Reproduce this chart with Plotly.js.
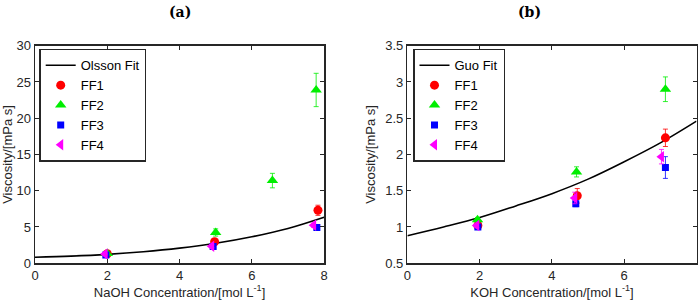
<!DOCTYPE html>
<html>
<head>
<meta charset="utf-8">
<script src="https://cdn.plot.ly/plotly-3.0.1.min.js"></script>
<style>html,body{margin:0;padding:0;background:#fff;}#chart{width:700px;height:305px;}</style>
</head>
<body>
<div id="chart"></div>
<script>
// Panel (a): NaOH
const fitA_x = [0, 1, 2, 3, 4, 5, 6, 7, 8];
const fitA_y = [0.82, 0.98, 1.22, 1.58, 2.08, 2.75, 3.65, 4.8, 6.35];
const a_FF1_x = [2.0, 4.97, 7.83];
const a_FF1_y = [1.3, 2.96, 7.3];
const a_FF1_e = [0.15, 0.3, 0.7];
const a_FF2_x = [2.0, 5.0, 6.57, 7.78];
const a_FF2_y = [1.35, 4.24, 11.4, 23.9];
const a_FF2_e = [0.15, 0.5, 1.0, 2.3];
const a_FF3_x = [1.96, 4.93, 7.8];
const a_FF3_y = [1.15, 2.3, 4.92];
const a_FF3_e = [0.1, 0.2, 0.3];
const a_FF4_x = [1.94, 4.89, 7.71];
const a_FF4_y = [1.27, 2.35, 5.25];
const a_FF4_e = [0.1, 0.2, 0.3];

// Panel (b): KOH
const fitB_x = [0, 1, 2, 3, 4, 5, 6, 7, 8];
const fitB_y = [0.88, 1.0, 1.13, 1.29, 1.46, 1.66, 1.9, 2.16, 2.46];
const b_FF1_x = [1.95, 4.7, 7.14];
const b_FF1_y = [1.02, 1.43, 2.23];
const b_FF1_e = [0.03, 0.1, 0.12];
const b_FF2_x = [1.94, 4.68, 7.14];
const b_FF2_y = [1.1, 1.76, 2.9];
const b_FF2_e = [0.03, 0.07, 0.17];
const b_FF3_x = [1.95, 4.66, 7.14];
const b_FF3_y = [1.0, 1.32, 1.82];
const b_FF3_e = [0.02, 0.04, 0.15];
const b_FF4_x = [1.92, 4.63, 7.03];
const b_FF4_y = [1.02, 1.4, 1.97];
const b_FF4_e = [0.03, 0.08, 0.1];

const names = ['FF1', 'FF2', 'FF3', 'FF4'];
const colors = ['#ff0000', '#00ee00', '#0000ff', '#ff00ff'];
const symbols = ['circle', 'triangle-up', 'square', 'triangle-left'];
const sizes = [9, 10, 7, 10];

function pts(x, y, e, i, xa, ya, leg) {
  return {
    x: x, y: y, type: 'scatter', mode: 'markers', name: names[i],
    xaxis: xa, yaxis: ya, legend: leg,
    marker: {color: colors[i], symbol: symbols[i], size: sizes[i]},
    error_y: {type: 'data', array: e, visible: true, color: colors[i], thickness: 0.8, width: 2.5}
  };
}

const data = [
  {x: fitA_x, y: fitA_y, type: 'scatter', mode: 'lines', name: 'Olsson Fit', line: {color: '#000', width: 1.6, shape: 'spline'}, xaxis: 'x', yaxis: 'y', legend: 'legend'},
  pts(a_FF1_x, a_FF1_y, a_FF1_e, 0, 'x', 'y', 'legend'),
  pts(a_FF2_x, a_FF2_y, a_FF2_e, 1, 'x', 'y', 'legend'),
  pts(a_FF3_x, a_FF3_y, a_FF3_e, 2, 'x', 'y', 'legend'),
  pts(a_FF4_x, a_FF4_y, a_FF4_e, 3, 'x', 'y', 'legend'),
  {x: fitB_x, y: fitB_y, type: 'scatter', mode: 'lines', name: 'Guo Fit', line: {color: '#000', width: 1.6, shape: 'spline'}, xaxis: 'x2', yaxis: 'y2', legend: 'legend2'},
  pts(b_FF1_x, b_FF1_y, b_FF1_e, 0, 'x2', 'y2', 'legend2'),
  pts(b_FF2_x, b_FF2_y, b_FF2_e, 1, 'x2', 'y2', 'legend2'),
  pts(b_FF3_x, b_FF3_y, b_FF3_e, 2, 'x2', 'y2', 'legend2'),
  pts(b_FF4_x, b_FF4_y, b_FF4_e, 3, 'x2', 'y2', 'legend2')
];

const axisCommon = {
  showline: true, mirror: 'ticks', linecolor: '#262626', linewidth: 1.5,
  ticks: 'inside', ticklen: 4, tickcolor: '#262626', tickwidth: 1,
  showgrid: false, zeroline: false,
  tickfont: {family: 'Liberation Sans, Arial, sans-serif', size: 13, color: '#262626'}
};
const titleFont = {family: 'Liberation Sans, Arial, sans-serif', size: 13, color: '#262626'};

const legendCommon = {
  bgcolor: '#fff', bordercolor: '#262626', borderwidth: 1.5,
  font: {family: 'Liberation Sans, Arial, sans-serif', size: 13, color: '#000'},
  xanchor: 'left', yanchor: 'top', tracegroupgap: 0, itemwidth: 30
};

const layout = {
  width: 700, height: 305,
  margin: {l: 0, r: 0, t: 0, b: 0},
  paper_bgcolor: '#fff', plot_bgcolor: '#fff',
  xaxis: Object.assign({}, axisCommon, {domain: [0.05, 0.463], range: [0, 8], tickvals: [0, 2, 4, 6, 8], anchor: 'y',
    title: {text: 'NaOH Concentration/[mol L<sup>-1</sup>]', font: titleFont, standoff: 2}}),
  yaxis: Object.assign({}, axisCommon, {domain: [0.137, 0.85], range: [0, 30], tickvals: [0, 5, 10, 15, 20, 25, 30], anchor: 'x',
    title: {text: 'Viscosity/[mPa s]', font: titleFont, standoff: 6}}),
  xaxis2: Object.assign({}, axisCommon, {domain: [0.582, 0.995], range: [0, 8], tickvals: [0, 2, 4, 6, 8], anchor: 'y2',
    title: {text: 'KOH Concentration/[mol L<sup>-1</sup>]', font: titleFont, standoff: 2}}),
  yaxis2: Object.assign({}, axisCommon, {domain: [0.137, 0.85], range: [0.5, 3.5], tickvals: [0.5, 1, 1.5, 2, 2.5, 3, 3.5], ticktext: ['0.5', '1', '1.5', '2', '2.5', '3', '3.5'], anchor: 'x2',
    title: {text: 'Viscosity/[mPa s]', font: titleFont, standoff: 6}}),
  legend: Object.assign({}, legendCommon, {x: 0.056, y: 0.84}),
  legend2: Object.assign({}, legendCommon, {x: 0.59, y: 0.84}),
  annotations: [
    {text: '<b>(a)</b>', xref: 'paper', yref: 'paper', x: 0.257, y: 0.96, showarrow: false, xanchor: 'center', yanchor: 'middle',
     font: {family: 'DejaVu Serif, Liberation Serif, serif', size: 14, color: '#000'}},
    {text: '<b>(b)</b>', xref: 'paper', yref: 'paper', x: 0.757, y: 0.96, showarrow: false, xanchor: 'center', yanchor: 'middle',
     font: {family: 'DejaVu Serif, Liberation Serif, serif', size: 14, color: '#000'}}
  ],
  showlegend: true
};

Plotly.newPlot('chart', data, layout, {displayModeBar: false, staticPlot: true});
</script>
</body>
</html>
